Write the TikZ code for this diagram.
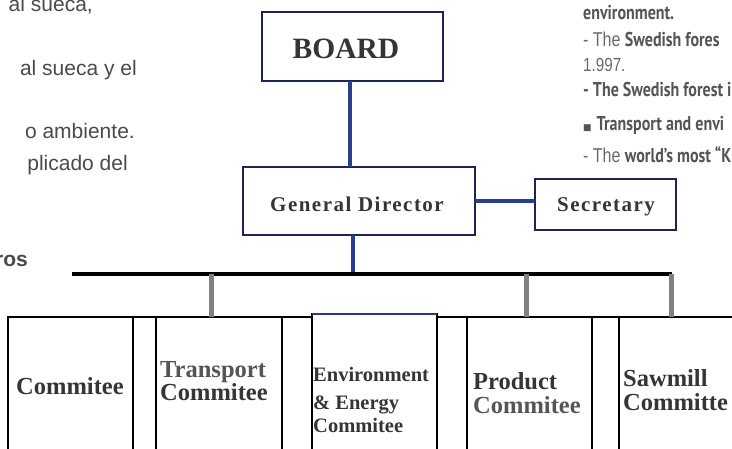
\documentclass[tikz,border=0pt]{standalone}
\usepackage{fontspec}
\setmainfont{Liberation Serif}
\newfontfamily\sansf{Liberation Sans}
\newfontfamily\narrowf[FakeStretch=0.8]{Liberation Sans}
\newfontfamily\condf[FakeStretch=0.8]{PT Sans}
\newfontfamily\spacedf[LetterSpace=7]{Liberation Serif}
\newfontfamily\dejavuf{DejaVu Sans}
\definecolor{navyline}{HTML}{1E2550}
\definecolor{connblue}{HTML}{24428A}
\definecolor{stubgray}{HTML}{808080}
\definecolor{lefttext}{HTML}{4A4A4A}
\definecolor{darktxt}{HTML}{333633}
\definecolor{midtxt}{HTML}{555555}
\definecolor{righttxt}{HTML}{555555}
\definecolor{rightthin}{HTML}{6A6A6A}
\definecolor{envblue}{HTML}{2A3A7A}
\begin{document}
\begin{tikzpicture}[x=1pt,y=-1pt,
  orgbox/.style={draw=navyline, line width=1.5pt, inner sep=0pt, outer sep=0pt, fill=white, anchor=north west},
  cbox/.style={draw=black, line width=1.8pt, inner sep=0pt, outer sep=0pt, anchor=north west},
  blueconn/.style={draw=connblue, line width=4pt},
  graystub/.style={draw=stubgray, line width=5pt},
  barline/.style={draw=black, line width=4pt},
  topline/.style={draw=black, line width=1.8pt},
  envtop/.style={draw=envblue, line width=2.2pt},
  lefttxt/.style={font=\sansf\fontsize{21}{21}\selectfont, text=lefttext, anchor=base east, inner sep=0pt},
  orgtxt/.style={font=\spacedf\bfseries\fontsize{21}{21}\selectfont, text=darktxt, anchor=base, inner sep=0pt},
  comtxt/.style={font=\bfseries\fontsize{24.5}{24}\selectfont, anchor=base west, inner sep=0pt},
  envtxt/.style={font=\bfseries\fontsize{20.5}{20}\selectfont, anchor=base west, inner sep=0pt, text=darktxt},
  righttext/.style={anchor=base west, inner sep=0pt, text=righttxt}
]
\clip (0,0) rectangle (732,448);
\fill[white] (0,0) rectangle (732,448);

% left text (clipped paragraph)
\node[lefttxt] (l1) at (93,11) {al sueca,};
\node[lefttxt] (l2) at (137,75) {al sueca y el};
\node[lefttxt] (l3) at (135,138) {o ambiente.};
\node[lefttxt] (l4) at (128,170) {plicado del};
\node[lefttxt, font=\sansf\bfseries\fontsize{21}{21}\selectfont] (l5) at (28,266) {ros};

% right text (clipped paragraph)
\node[righttext, font=\condf\bfseries\fontsize{20}{20}\selectfont] (r1) at (583,19) {environment.};
\node[righttext, font=\fontsize{20}{20}\selectfont] (r2) at (583,46) {{\narrowf\color{rightthin}- The }{\condf\bfseries Swedish fores}};
\node[righttext, font=\narrowf\fontsize{19}{19}\selectfont, text=rightthin] (r3) at (583,71) {1.997.};
\node[righttext, font=\condf\bfseries\fontsize{20}{20}\selectfont] (r4) at (583,96) {- The Swedish forest i};
\node[righttext, font=\fontsize{20}{20}\selectfont] (r5) at (583,130) {{\dejavuf\fontsize{9}{9}\selectfont ■} {\condf\bfseries Transport and envi}};
\node[righttext, font=\fontsize{20}{20}\selectfont] (r6) at (583,162) {{\narrowf\color{rightthin}- The }{\condf\bfseries world’s most “K}};

% organisation boxes
\node[orgbox, minimum width=181pt, minimum height=69pt] (board) at (262,12) {};
\node[orgbox, minimum width=232pt, minimum height=68pt] (gd) at (243,167) {};
\node[orgbox, minimum width=141pt, minimum height=51pt] (sec) at (535,179) {};
\node[font=\bfseries\fontsize{29.5}{29.5}\selectfont, text=darktxt, inner sep=0pt] (boardtxt) at (346,49) {BOARD};
\node[orgtxt] (gdtxt) at (357,211.7) {General Director};
\node[orgtxt] (sectxt) at (606,211.7) {Secretary};

% connectors
\coordinate (barL) at (72,274);
\coordinate (barR) at (672,274);
\draw[blueconn] ([xshift=-2.5pt]board.south) -- ([xshift=-2.5pt]board.south |- gd.north);
\draw[blueconn] (gd.east) -- (gd.east -| sec.west);
\draw[blueconn] ([xshift=-6pt]gd.south) -- ([xshift=-6pt]gd.south |- barL);
\draw[barline] (barL) -- (barR);

% committee boxes
\node[cbox, minimum width=125pt, minimum height=150pt] (box1) at (8,317) {};
\node[cbox, minimum width=126pt, minimum height=150pt] (box2) at (156,317) {};
\node[cbox, minimum width=125pt, minimum height=150pt] (box3) at (312,314) {};
\node[cbox, minimum width=125pt, minimum height=150pt] (box4) at (467,317) {};
\node[cbox, minimum width=141pt, minimum height=150pt] (box5) at (619,317) {};
\draw[envtop] (box3.north west) -- (box3.north east);
\draw[topline] (box1.north east) -- (box2.north west);
\draw[topline] (box2.north east) -- (box2.north east -| box3.north west);
\draw[topline] (box3.north east |- box4.north) -- (box4.north west);
\draw[topline] (box4.north east) -- (box5.north west);
\draw[black, line width=2.6pt] (box4.north east) -- (box4.south east);

% stubs from the bar
\draw[graystub] ([xshift=-8pt]box2.north) -- ([xshift=-8pt]box2.north |- barL);
\draw[graystub] ([xshift=-3.5pt]box4.north) -- ([xshift=-3.5pt]box4.north |- barL);
\draw[graystub] ([xshift=52pt]box5.north west) -- ([xshift=52pt]box5.north west |- barR);

% committee texts
\node[comtxt, text=darktxt] (c1) at (16,394) {Commitee};
\node[comtxt, text=midtxt] (c2a) at (160,377) {Transport};
\node[comtxt, text=darktxt] (c2b) at (160,400) {Commitee};
\node[envtxt] (c3a) at (313,381) {Environment};
\node[envtxt] (c3b) at (313,409) {\& Energy};
\node[envtxt] (c3c) at (313,432) {Commitee};
\node[comtxt, text=darktxt] (c4a) at (473,389) {Product};
\node[comtxt, text=midtxt] (c4b) at (473,413) {Commitee};
\node[comtxt, text=darktxt] (c5a) at (623,386) {Sawmill};
\node[comtxt, text=darktxt] (c5b) at (623,410) {Committe};
\end{tikzpicture}
\end{document}
